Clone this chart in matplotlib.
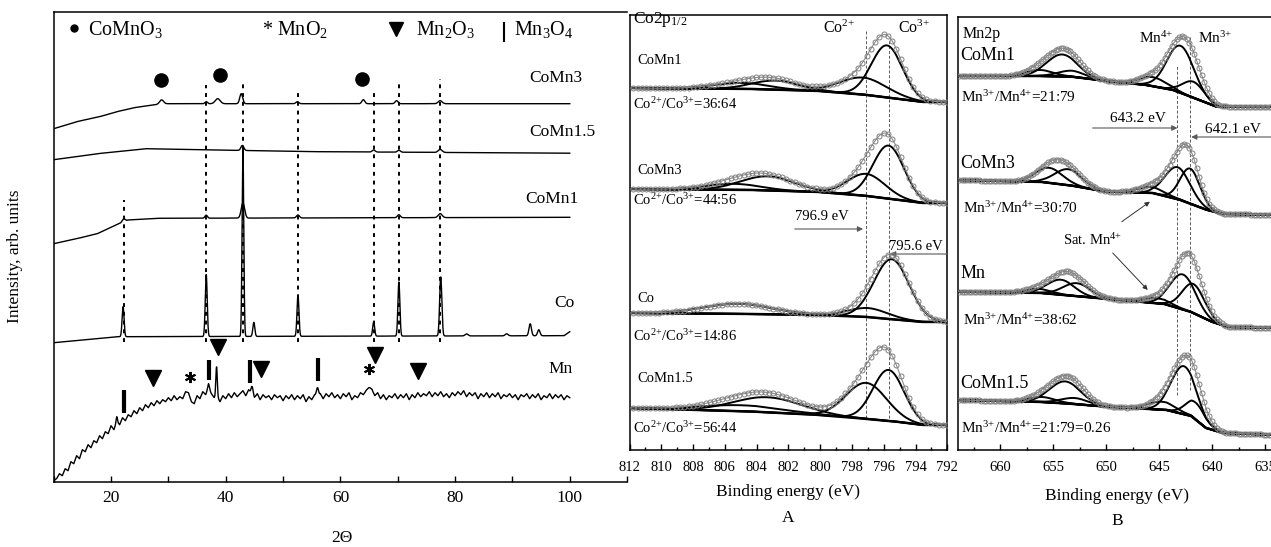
#!/usr/bin/python
# XRD patterns and Co2p / Mn2p XPS fits of the CoMn oxide series

import numpy as np
import matplotlib
matplotlib.use('Agg')
from matplotlib import pyplot
from matplotlib.ticker import MultipleLocator

pyplot.rcParams['font.family'] = ['Liberation Serif', 'DejaVu Serif']
pyplot.rcParams['mathtext.fontset'] = 'custom'
pyplot.rcParams['mathtext.rm'] = 'Liberation Serif'
pyplot.rcParams['mathtext.it'] = 'Liberation Serif:italic'
pyplot.rcParams['mathtext.bf'] = 'Liberation Serif:bold'

############################ XRD data (read off) ###############################
# baselines are (2theta, intensity) points, peaks are (2theta, height, fwhm)

comn3_base_x = [10, 14, 18, 21, 24, 29, 100]
comn3_base_y = [353, 360, 365, 370, 374, 378, 378]
comn3_peaks = [(28.8, 4, 0.8), (36.6, 2, 0.5), (38.6, 5, 1.0), (42.7, 10, 0.6),
               (52.5, 2, 0.6), (64.0, 4, 0.6), (69.8, 3, 0.6), (77.4, 3, 0.8)]

comn15_base_x = [10, 17.6, 26, 35, 56, 100]
comn15_base_y = [322, 328, 333, 332, 330, 328.5]
comn15_peaks = [(42.9, 5, 0.6), (65.8, 2, 0.6), (70.2, 2, 0.6), (77.4, 3, 0.8)]

comn1_base_x = [10, 14, 17.6, 21, 23, 28, 100]
comn1_base_y = [238, 243, 248, 257, 261.7, 263.4, 264.4]
comn1_peaks = [(22.2, 3, 0.6), (36.6, 3, 0.5), (43.0, 15, 0.7), (52.6, 3, 0.6),
               (70.2, 3, 0.6), (77.4, 4, 0.8)]

co_base_x = [10, 21, 99, 100]
co_base_y = [139, 145, 146, 150]
co_peaks = [(22.1, 30, 0.4), (36.6, 62, 0.4), (43.0, 187, 0.35), (44.9, 14, 0.4),
            (52.6, 41, 0.4), (65.8, 14, 0.4), (70.2, 54, 0.4), (77.5, 59, 0.45),
            (82.0, 2, 0.6), (89.0, 2, 0.6), (93.1, 12, 0.5), (94.6, 6, 0.5)]

# Mn pattern is noisy: read every 0.5 deg
mn_base_x = np.arange(10, 100.01, 0.5)
mn_base_y = [1, 3, 8, 6, 13, 11, 20, 18, 26, 23,
             32, 30, 37, 34, 41, 39, 46, 43, 50, 48,
             56, 52, 60, 57, 64, 61, 67, 65, 71, 68,
             74, 71, 77, 74, 79, 76, 81, 78, 82, 80,
             84, 81, 86, 82, 85, 83, 90, 89, 80, 78,
             86, 83, 90, 87, 93, 88, 84, 85, 80, 86,
             83, 88, 84, 89, 85, 88, 91, 86, 92, 88,
             84, 88, 82, 87, 84, 86, 82, 87, 84, 86,
             81, 86, 83, 87, 82, 86, 83, 87, 80, 85,
             82, 87, 86, 88, 83, 88, 85, 89, 84, 87,
             83, 88, 85, 89, 82, 86, 84, 89, 87, 91,
             90, 92, 86, 89, 83, 87, 82, 86, 84, 88,
             83, 87, 84, 88, 82, 87, 84, 89, 85, 88,
             86, 90, 85, 89, 86, 90, 85, 88, 84, 89,
             86, 90, 87, 91, 85, 89, 86, 89, 83, 88,
             85, 89, 84, 88, 85, 89, 83, 87, 85, 88,
             84, 87, 82, 87, 85, 88, 83, 87, 84, 88,
             82, 86, 84, 88, 83, 87, 84, 87, 82, 86,
             84]
mn_peaks = [(21.0, 5, 0.3), (37.0, 5, 0.4), (38.4, 30, 0.3), (44.6, 8, 0.4),
            (56.0, 8, 0.4), (65.0, 4, 0.6)]

xrd_labels = ['CoMn3', 'CoMn1.5', 'CoMn1', 'Co', 'Mn']
xrd_label_x = [92.9, 92.9, 92.2, 97.3, 96.2]
xrd_label_y = [404, 350, 283, 179, 113]

# phase markers
comno3_x = [28.8, 39.0, 63.7]
comno3_y = [401.7, 406.7, 402.7]
mn2o3_x = [27.4, 38.6, 46.1, 66.0, 73.6]
mn2o3_y = [103.4, 134.4, 112.7, 126.7, 111.0]
mno2_x = [33.7, 65.0]
mno2_y = [105.0, 112.4]
mn3o4_x = [22.2, 37.1, 44.3, 56.1]
mn3o4_lo = [68.4, 101.7, 98.4, 100.7]
mn3o4_hi = [91.7, 121.7, 121.7, 123.4]
guide_x = [22.2, 36.6, 43.0, 52.6, 65.8, 70.2, 77.4]
guide_top = [281.7, 396.7, 399.7, 388.7, 392.7, 398.7, 402.7]
guide_bottom = 140

############################ XPS data (read off) ###############################
# background points (eV, intensity) and fit components (eV, height, fwhm)

co2p_bg_x = [792, 793.5, 795, 797, 800, 804, 812]
co2p_spectra = {
    'CoMn1': ([348, 348, 351, 355, 359, 361, 362],
              [(795.8, 52, 2.3), (797.3, 17, 3.5), (805.0, 6, 4.0), (802.8, 9, 3.5)]),
    'CoMn3': ([247, 247, 250, 254, 258, 260, 261],
              [(795.7, 53, 2.3), (797.1, 22, 2.8), (805.5, 6, 4.0), (803.3, 14, 4.0)]),
    'Co': ([128, 128, 130, 133, 135, 136, 137],
           [(795.5, 60, 2.6), (797.0, 9, 3.0), (805.2, 10, 5.0)]),
    'CoMn1.5': ([25, 25, 28, 31, 35, 38.3, 42],
                [(795.7, 51, 2.3), (797.1, 36, 3.0), (805.0, 6, 6.0), (803.3, 15, 5.0)]),
}
co2p_names = ['CoMn1', 'CoMn3', 'Co', 'CoMn1.5']
co2p_name_y = [390, 279, 151.7, 71.3]
co2p_ratios = ['36:64', '44:56', '14:86', '56:44']
co2p_ratio_y = [340.7, 245, 109.3, 16.7]
co2p_lines = [797.1, 795.7]

mn2p_spectra = {
    'CoMn1': ([634, 639.6, 640.5, 643.7, 646.2, 649.4, 653.2, 656, 664],
              [343, 343.3, 347, 360, 365, 368.3, 373.3, 374, 374],
              [(643.0, 47, 3.0), (641.8, 16, 2.4), (645.6, 9, 3.0),
               (654.2, 22, 3.4), (656.3, 6, 3.0), (653.3, 6, 3.0)]),
    'CoMn3': ([634, 639, 640.5, 643, 645.6, 650, 653, 656, 664],
              [235, 236, 240, 250, 257, 258.3, 264, 268, 270],
              [(643.3, 32, 2.8), (642.1, 35, 2.2), (645.8, 6, 3.0),
               (655.4, 15, 3.0), (653.6, 16, 3.0)]),
    'Mn': ([634, 638.5, 640, 642, 644.5, 648.7, 653, 656, 664],
           [122, 123, 128, 138, 146, 150, 154, 157, 158.3],
           [(642.8, 35, 2.8), (641.8, 29, 2.5), (645.3, 5, 3.0),
            (654.3, 15, 3.0), (652.8, 13, 3.0), (656.5, 4, 3.0)]),
    'CoMn1.5': ([634, 639, 640.6, 642, 644.3, 650, 653, 656, 664],
                [15, 17, 22, 34, 40, 43.3, 46, 48, 50],
                [(642.7, 48, 2.8), (641.6, 17, 2.2), (644.8, 8, 3.0),
                 (653.9, 22, 3.4), (656.1, 5, 3.0), (653.0, 6, 3.0)]),
}
mn2p_names = ['CoMn1', 'CoMn3', 'Mn', 'CoMn1.5']
mn2p_name_y = [394.2, 286, 176.3, 66.2]
mn2p_ratios = ['21:79', '30:70', '38:62', '21:79=0.26']
mn2p_ratio_x = [663.75, 663.5, 663.5, 663.75]
mn2p_ratio_y = [348.3, 236.7, 125, 16.7]
mn2p_lines = [643.3, 642.1]


def peak_sum(x, peaks):
    out = np.zeros_like(x)
    for c, h, w in peaks:
        s = w / 2.3548
        out += h * np.exp(-0.5 * ((x - c) / s) ** 2)
    return out


def xrd_trace(ax, base_x, base_y, peaks):
    x = np.arange(10, 100.001, 0.02)
    y = np.interp(x, base_x, base_y) + peak_sum(x, peaks)
    ax.plot(x, y, color='k', lw=1.0, zorder=3)


def xps_spectrum(ax, bg_x, bg_y, comps, every):
    x = np.linspace(bg_x[0], bg_x[-1], 900)
    bg = np.interp(x, bg_x, bg_y)
    total = bg.copy()
    for c, h, w in comps:
        g = peak_sum(x, [(c, h, w)])
        ax.plot(x, bg + g, color='k', lw=1.4, zorder=3)
        total += g
    ax.plot(x, bg, color='k', lw=1.8, zorder=3)
    ax.plot(x, total, color='0.55', lw=0.8, marker='o', ms=3.6, mfc='none',
            mec='0.5', mew=0.7, markevery=every, zorder=4)


def sup(ion, charge):
    # braces keep mathtext from spacing the plus sign as an operator
    return ion + '$^{' + charge + '{+}}$'


def arrow(ax, x0, x1, y, color='0.35'):
    ax.annotate('', xy=(x1, y), xytext=(x0, y),
                arrowprops=dict(arrowstyle='-|>', color=color, lw=0.8,
                                mutation_scale=8, shrinkA=0, shrinkB=0))


W, H = 1271.0, 547.0


def box(l, t, r, b):
    return [l / W, 1 - b / H, (r - l) / W, (b - t) / H]


fig = pyplot.figure(figsize=(12.71, 5.47), dpi=100)

################################### XRD #######################################
ax = fig.add_axes(box(53.7, 12, 627.1, 481.7))
ax.set_xlim(10, 110)
ax.set_ylim(0, 469.7)
for sp in ax.spines.values():
    sp.set_linewidth(1.1)
ax.spines['right'].set_visible(False)
ax.set_yticks([])
ax.xaxis.set_major_locator(MultipleLocator(20))
ax.xaxis.set_minor_locator(MultipleLocator(10))
ax.set_xticks([20, 40, 60, 80, 100])
ax.tick_params(axis='x', which='both', direction='in', labelsize=12.5, pad=6)
ax.tick_params(axis='x', which='major', length=4, width=1)
ax.tick_params(axis='x', which='minor', length=4, width=1)
ax.set_xlabel('2Θ', fontsize=12.5)
ax.xaxis.set_label_coords(0.502, -0.102)

ax.vlines(guide_x, guide_bottom, guide_top, colors='k', lw=1.4,
          linestyles=(0, (2, 2.5)), zorder=2)

xrd_trace(ax, comn3_base_x, comn3_base_y, comn3_peaks)
xrd_trace(ax, comn15_base_x, comn15_base_y, comn15_peaks)
xrd_trace(ax, comn1_base_x, comn1_base_y, comn1_peaks)
xrd_trace(ax, co_base_x, co_base_y, co_peaks)
xrd_trace(ax, mn_base_x, mn_base_y, mn_peaks)

for name, lx, ly in zip(xrd_labels, xrd_label_x, xrd_label_y):
    ax.text(lx, ly, name, fontsize=12.5, ha='left', va='center')

ax.plot(comno3_x, comno3_y, 'o', color='k', ms=9.5, ls='none')
ax.plot(mn2o3_x, mn2o3_y, 'v', color='k', ms=11, ls='none')
ax.plot(mno2_x, mno2_y, marker=(6, 2, 0), color='k', ms=8, mew=1.4, ls='none')
ax.vlines(mn3o4_x, mn3o4_lo, mn3o4_hi, colors='k', lw=3)

# phase legend along the top
ax.plot([13.5], [453.7], 'o', color='k', ms=5)
ax.text(15.9, 446.5, 'CoMnO$_3$', fontsize=14.5, va='baseline')
ax.text(46.3, 446.5, '* MnO$_2$', fontsize=14.5, va='baseline')
ax.plot([69.7], [452.5], 'v', color='k', ms=10)
ax.text(73.1, 446.5, 'Mn$_2$O$_3$', fontsize=14.5, va='baseline')
ax.vlines([88.5], 440, 460, colors='k', lw=1.5)
ax.text(90.3, 446.5, 'Mn$_3$O$_4$', fontsize=14.5, va='baseline')

fig.text(15 / W, 1 - 256 / H, 'Intensity, arb. units', rotation=90,
         fontsize=12.5, ha='center', va='center')

################################# Co2p (A) ####################################
ax_a = fig.add_axes(box(629.5, 15, 947.3, 450))
ax_a.set_xlim(812, 792)
ax_a.set_ylim(0, 435)
for sp in ax_a.spines.values():
    sp.set_linewidth(1.1)
ax_a.set_yticks([])
ax_a.xaxis.set_major_locator(MultipleLocator(2))
ax_a.xaxis.set_minor_locator(MultipleLocator(1))
ax_a.tick_params(axis='x', which='both', direction='in', labelsize=10.5, pad=8)
ax_a.tick_params(axis='x', which='major', length=4, width=1)
ax_a.tick_params(axis='x', which='minor', length=2.5, width=1)
ax_a.set_xlabel('Binding energy (eV)', fontsize=12.5)
ax_a.xaxis.set_label_coords(0.5, -0.078)

ax_a.vlines(co2p_lines, 32, [420, 410], colors='0.35', lw=0.7,
            linestyles=(0, (3, 2)), zorder=2)
for name, ny, ratio, ry in zip(co2p_names, co2p_name_y, co2p_ratios, co2p_ratio_y):
    bg_y, comps = co2p_spectra[name]
    xps_spectrum(ax_a, co2p_bg_x, bg_y, comps, 12)
    ax_a.text(811.5, ny, name, fontsize=10.5, va='center')
    ax_a.text(811.8, ry, sup('Co', '2') + '/' + sup('Co', '3') + '=' + ratio,
              fontsize=10.5, va='baseline')

ax_a.text(811.8, 427, 'Co2p$_{1/2}$', fontsize=12.5, va='baseline')
ax_a.text(799.8, 416.7, sup('Co', '2'), fontsize=11.5, va='baseline')
ax_a.text(795.1, 416.7, sup('Co', '3'), fontsize=11.5, va='baseline')
ax_a.text(801.6, 230, '796.9 eV', fontsize=10.5, va='baseline')
arrow(ax_a, 801.6, 797.3, 221)
ax_a.text(795.7, 199.5, '795.6 eV', fontsize=10.5, va='baseline')
arrow(ax_a, 792.0, 795.6, 196)
fig.text(788 / W, 1 - 517.5 / H, 'A', fontsize=12.5, ha='center', va='center')

################################# Mn2p (B) ####################################
ax_b = fig.add_axes(box(958, 17, 1276, 450))
ax_b.set_xlim(664, 634)
ax_b.set_ylim(0, 433)
for sp in ax_b.spines.values():
    sp.set_linewidth(1.1)
ax_b.set_yticks([])
ax_b.xaxis.set_major_locator(MultipleLocator(5))
ax_b.xaxis.set_minor_locator(MultipleLocator(2.5))
ax_b.tick_params(axis='x', which='both', direction='in', labelsize=10.5, pad=8)
ax_b.tick_params(axis='x', which='major', length=4, width=1)
ax_b.tick_params(axis='x', which='minor', length=2.5, width=1)
ax_b.set_xlabel('Binding energy (eV)', fontsize=12.5)
ax_b.xaxis.set_label_coords(0.5, -0.088)

ax_b.vlines(mn2p_lines, [55, 60], [385, 413], colors='0.35', lw=0.7,
            linestyles=(0, (3, 2)), zorder=2)
for name, ny, ratio, rx, ry in zip(mn2p_names, mn2p_name_y, mn2p_ratios,
                                   mn2p_ratio_x, mn2p_ratio_y):
    bg_x, bg_y, comps = mn2p_spectra[name]
    xps_spectrum(ax_b, bg_x, bg_y, comps, 7)
    ax_b.text(663.75, ny, name, fontsize=13, va='center')
    ax_b.text(rx, ry, sup('Mn', '3') + '/' + sup('Mn', '4') + '=' + ratio,
              fontsize=11, va='baseline')

ax_b.text(663.6, 416.3, 'Mn2p', fontsize=11.5, va='center')
ax_b.text(646.9, 407.3, sup('Mn', '4'), fontsize=11, va='baseline')
ax_b.text(641.4, 407.3, sup('Mn', '3'), fontsize=11, va='baseline')
ax_b.text(649.7, 328.3, '643.2 eV', fontsize=11, va='baseline')
arrow(ax_b, 651.3, 643.3, 322)
ax_b.text(640.7, 316.7, '642.1 eV', fontsize=11, va='baseline')
arrow(ax_b, 634.4, 642.0, 313)
ax_b.text(654.1, 205, 'Sat. ' + sup('Mn', '4'), fontsize=10.5, va='baseline')
ax_b.annotate('', xy=(645.9, 248.3), xytext=(648.55, 228.3),
              arrowprops=dict(arrowstyle='-|>', color='0.2', lw=0.7,
                              mutation_scale=7, shrinkA=0, shrinkB=0))
ax_b.annotate('', xy=(646.1, 160), xytext=(649.4, 197),
              arrowprops=dict(arrowstyle='-|>', color='0.2', lw=0.7,
                              mutation_scale=7, shrinkA=0, shrinkB=0))
fig.text(1117 / W, 1 - 521 / H, 'B', fontsize=12.5, ha='center', va='center')

fig.savefig('out.png', dpi=100)
